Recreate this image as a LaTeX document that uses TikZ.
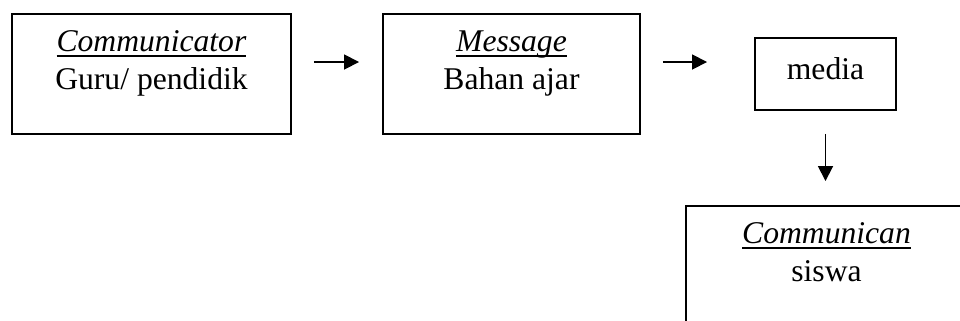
\documentclass[tikz,border=0pt]{standalone}
\usepackage{fontspec}
\setmainfont{Liberation Serif}
\usetikzlibrary{arrows.meta}

% underline drawn a little heavier than \underline
\newcommand{\uword}[1]{\setbox0\hbox{#1}\rlap{\rule[-3pt]{\wd0}{1.1pt}}\box0}

\begin{document}
\begin{tikzpicture}
    [box/.style={draw=black,line width=1.1pt,rectangle,inner sep=0pt},
     txt/.style={align=center,inner sep=0pt,font=\fontsize{18}{21.6}\selectfont},
     arr/.style={-{Triangle[length=8.5pt,width=8.5pt]},line width=1pt}]
    \path[use as bounding box,clip] (0,0) rectangle (19.2,-6.4);
    % boxes
    \node [box,minimum width=5.58cm,minimum height=2.4cm] (comm) at (3.03,-1.48) {};
    \node [box,minimum width=5.14cm,minimum height=2.4cm] (msg) at (10.23,-1.48) {};
    \node [box,minimum width=2.82cm,minimum height=1.44cm] (media) at (16.51,-1.48) {};
    \node [box,minimum width=5.62cm,minimum height=2.4cm] (recv) at (16.53,-5.32) {};
    % texts
    \node [txt,anchor=north] (commtxt) at ([yshift=-0.35cm]comm.north)
      {\uword{\textit{Communicator}}\\Guru/ pendidik};
    \node [txt,anchor=north] (msgtxt) at ([yshift=-0.35cm]msg.north)
      {\uword{\textit{Message}}\\Bahan ajar};
    \node [txt,anchor=base] (mediatxt) at ([yshift=-0.1cm]media.center) {media};
    \node [txt,anchor=north] (recvtxt) at ([yshift=-0.35cm]recv.north)
      {\uword{\textit{Communican}}\\siswa};
    % arrows
    \draw [arr,shorten <=0.44cm,shorten >=0.46cm]
      ([yshift=0.24cm]comm.east) -- ([yshift=0.24cm]msg.west);
    \draw [arr,shorten <=0.44cm,shorten >=0.94cm]
      ([yshift=0.24cm]msg.east) -- ([yshift=0.24cm]media.west);
    \draw [arr,shorten <=0.46cm,shorten >=0.48cm]
      (media.south) -- (media.south |- recv.north);
\end{tikzpicture}
\end{document}
